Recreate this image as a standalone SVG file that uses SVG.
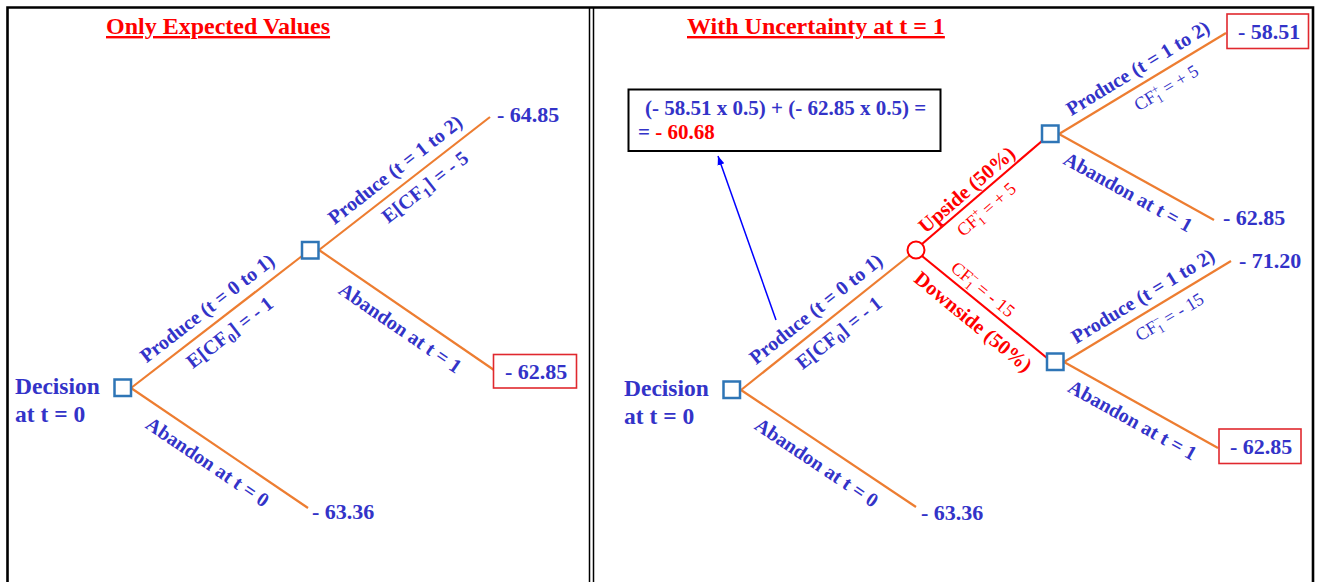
<svg xmlns="http://www.w3.org/2000/svg" width="1317" height="582" viewBox="0 0 1317 582">
<style>
.t{font-family:"Liberation Serif","Times New Roman",serif;font-weight:bold;fill:#3333c8}
.n{font-weight:normal}
.lbl{font-size:20px}
.cf{font-size:18px}
.v{font-size:22px}
.dec{font-size:23.5px}
.ttl{font-size:24px;fill:#ff0000;text-decoration:underline}
.rd{fill:#ff0000}
.e{stroke:#ed7d31;stroke-width:2.2;fill:none}
.r{stroke:#ff0000;stroke-width:2.2;fill:none}
.dn{fill:#fff;stroke:#2e75b6;stroke-width:2.5}
.cn{fill:#fff;stroke:#ff0000;stroke-width:2}
.rb{fill:#fff;stroke:#e0282e;stroke-width:1.6}
.fr{stroke:#000;fill:none}
</style>
<defs>
<marker id="ah" markerWidth="10" markerHeight="10" refX="9" refY="4" orient="auto" markerUnits="userSpaceOnUse">
<path d="M0,0.5 L9,4 L0,7.5 Z" fill="#0000ff"/>
</marker>
</defs>
<rect width="1317" height="582" fill="#fff"/>
<g id="frame">
<path class="fr" stroke-width="2.6" d="M7.5,582 V7.5 H1313 V582"/>
<line class="fr" stroke-width="1.5" x1="589.5" y1="7" x2="589.5" y2="582"/>
<line class="fr" stroke-width="1.5" x1="593.5" y1="7" x2="593.5" y2="582"/>
</g>
<text id="title-left" class="t ttl" x="106" y="34">Only Expected Values</text>
<text id="title-right" class="t ttl" x="687" y="34">With Uncertainty at t = 1</text>

<g id="connectors">
<line class="e" x1="131" y1="388" x2="302" y2="256"/>
<line class="e" x1="131" y1="388" x2="308" y2="508"/>
<line class="e" x1="319" y1="250" x2="490" y2="117"/>
<line class="e" x1="319" y1="250" x2="494" y2="370"/>
<line class="e" x1="741" y1="390" x2="910" y2="255"/>
<line class="e" x1="741" y1="390" x2="916" y2="507"/>
<line class="r" x1="922" y1="244" x2="1042" y2="141"/>
<line class="r" x1="922" y1="256" x2="1047" y2="358"/>
<line class="e" x1="1059" y1="134" x2="1226" y2="33"/>
<line class="e" x1="1059" y1="134" x2="1214" y2="220"/>
<line class="e" x1="1064" y1="362" x2="1231" y2="261"/>
<line class="e" x1="1064" y1="362" x2="1218" y2="448"/>
<line x1="776" y1="320" x2="718" y2="156" stroke="#0000ff" stroke-width="1.5" marker-end="url(#ah)"/>
</g>

<g id="l-decision">
<rect class="dn" x="114.5" y="379.5" width="16.5" height="16.5"/>
<text class="t dec" x="15" y="394">Decision</text>
<text class="t dec" x="15" y="422">at t = 0</text>
</g>
<g id="l-node1">
<rect class="dn" x="302" y="242" width="16.5" height="16.5"/>
</g>
<g id="l-end-produce"><text class="t v" x="497" y="122">- 64.85</text></g>
<g id="l-end-abandon1">
<rect class="rb" x="493.5" y="354.5" width="83" height="33.5"/>
<text class="t v" x="505" y="379">- 62.85</text>
</g>
<g id="l-end-abandon0"><text class="t v" x="312" y="519">- 63.36</text></g>

<g id="l-labels">
<g transform="translate(216.5,322) rotate(-37.7)">
<text class="t lbl" text-anchor="middle" x="1" y="-10">Produce (t = 0 to 1)</text>
<text class="t lbl" text-anchor="middle" x="4" y="23">E[CF<tspan font-size="14" dy="4">0</tspan><tspan dy="-4">] = - 1</tspan></text>
</g>
<g transform="translate(404.5,183.5) rotate(-37.9)">
<text class="t lbl" text-anchor="middle" x="1" y="-10">Produce (t = 1 to 2)</text>
<text class="t lbl" text-anchor="middle" x="14" y="22">E[CF<tspan font-size="14" dy="4">1</tspan><tspan dy="-4">] = - 5</tspan></text>
</g>
<g transform="translate(406.5,310) rotate(34.4)">
<text class="t lbl" text-anchor="middle" x="5" y="25">Abandon at t = 1</text>
</g>
<g transform="translate(219.5,448) rotate(34.1)">
<text class="t lbl" text-anchor="middle" x="-2" y="25">Abandon at t = 0</text>
</g>
</g>

<g id="r-formula">
<rect x="628.5" y="89.5" width="312" height="61.5" fill="#fff" stroke="#000" stroke-width="2"/>
<text class="t" font-size="21" x="645" y="115">(- 58.51 x 0.5) + (- 62.85 x 0.5) =</text>
<text class="t" font-size="21" x="638" y="139">= <tspan class="rd">- 60.68</tspan></text>
</g>
<g id="r-decision">
<rect class="dn" x="723.5" y="381.5" width="16.5" height="16.5"/>
<text class="t dec" x="624" y="396">Decision</text>
<text class="t dec" x="624" y="424">at t = 0</text>
</g>
<g id="r-chance"><circle class="cn" cx="916" cy="250" r="8.5"/></g>
<g id="r-node-up"><rect class="dn" x="1042" y="125.5" width="16.5" height="16.5"/></g>
<g id="r-node-down"><rect class="dn" x="1047" y="353.5" width="16.5" height="16.5"/></g>
<g id="r-end-up-produce">
<rect class="rb" x="1227" y="14" width="81.5" height="34.5"/>
<text class="t v" x="1238" y="39">- 58.51</text>
</g>
<g id="r-end-up-abandon"><text class="t v" x="1223" y="225">- 62.85</text></g>
<g id="r-end-down-produce"><text class="t v" x="1239" y="268">- 71.20</text></g>
<g id="r-end-down-abandon">
<rect class="rb" x="1219" y="429" width="82" height="34.5"/>
<text class="t v" x="1230" y="454">- 62.85</text>
</g>
<g id="r-end-abandon0"><text class="t v" x="921" y="520">- 63.36</text></g>

<g id="r-labels">
<g transform="translate(825.5,322.5) rotate(-38.6)">
<text class="t lbl" text-anchor="middle" x="1" y="-10">Produce (t = 0 to 1)</text>
<text class="t lbl" text-anchor="middle" x="4" y="23">E[CF<tspan font-size="14" dy="4">0</tspan><tspan dy="-4">] = - 1</tspan></text>
</g>
<g transform="translate(828.5,448.5) rotate(33.8)">
<text class="t lbl" text-anchor="middle" x="-2" y="25">Abandon at t = 0</text>
</g>
<g transform="translate(982,192) rotate(-40.9)">
<text class="t rd" font-size="20.5" text-anchor="middle" x="-10" y="-5">Upside (50%)</text>
<text class="t cf n rd" text-anchor="middle" x="-8" y="22">CF<tspan font-size="12" dy="4">1</tspan><tspan font-size="12" dx="-6" dy="-11">+</tspan><tspan dy="7"> = + 5</tspan></text>
</g>
<g transform="translate(984,307) rotate(39.4)">
<text class="t rd" font-size="20.5" text-anchor="middle" x="1" y="25">Downside (50%)</text>
<text class="t cf n rd" text-anchor="middle" x="-12" y="-7">CF<tspan font-size="12" dy="4">1</tspan><tspan font-size="12" dx="-6" dy="-11">−</tspan><tspan dy="7"> = - 15</tspan></text>
</g>
<g transform="translate(1142.5,83.5) rotate(-31.3)">
<text class="t lbl" text-anchor="middle" x="4" y="-9">Produce (t = 1 to 2)</text>
<text class="t cf n" text-anchor="middle" x="18" y="22">CF<tspan font-size="12" dy="4">1</tspan><tspan font-size="12" dx="-6" dy="-11">+</tspan><tspan dy="7"> = + 5</tspan></text>
</g>
<g transform="translate(1136.5,177) rotate(29)">
<text class="t lbl" text-anchor="middle" x="0" y="24">Abandon at t = 1</text>
</g>
<g transform="translate(1147.5,311.5) rotate(-31.2)">
<text class="t lbl" text-anchor="middle" x="4" y="-9">Produce (t = 1 to 2)</text>
<text class="t cf n" text-anchor="middle" x="16" y="22">CF<tspan font-size="12" dy="4">1</tspan><tspan font-size="12" dx="-6" dy="-11">−</tspan><tspan dy="7"> = - 15</tspan></text>
</g>
<g transform="translate(1141,405) rotate(29.2)">
<text class="t lbl" text-anchor="middle" x="0" y="24">Abandon at t = 1</text>
</g>
</g>
</svg>
